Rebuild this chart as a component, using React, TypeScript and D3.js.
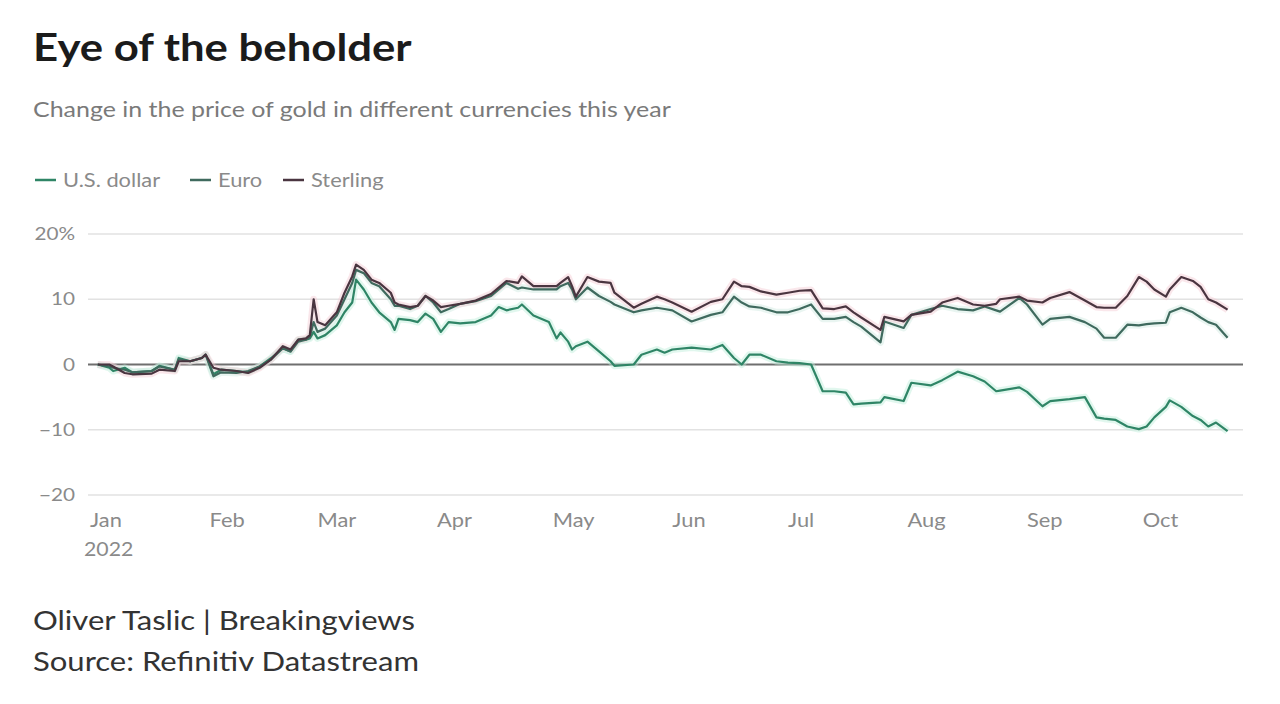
import React from "react";
import * as d3 from "d3";

// values, % change since start of 2022
const dates = [
  "2022-01-03", "2022-01-06", "2022-01-07", "2022-01-10", "2022-01-12", "2022-01-17", "2022-01-19", "2022-01-23",
  "2022-01-24", "2022-01-27", "2022-01-30", "2022-01-31", "2022-02-02", "2022-02-04", "2022-02-08", "2022-02-11",
  "2022-02-14", "2022-02-17", "2022-02-20", "2022-02-22", "2022-02-24", "2022-02-26", "2022-02-27", "2022-02-28",
  "2022-03-01", "2022-03-03", "2022-03-06", "2022-03-08", "2022-03-10", "2022-03-11", "2022-03-13", "2022-03-15",
  "2022-03-17", "2022-03-20", "2022-03-21", "2022-03-22", "2022-03-25", "2022-03-27", "2022-03-29", "2022-03-31",
  "2022-04-02", "2022-04-04", "2022-04-07", "2022-04-11", "2022-04-15", "2022-04-17", "2022-04-19", "2022-04-22",
  "2022-04-23", "2022-04-26", "2022-04-30", "2022-05-02", "2022-05-03", "2022-05-05", "2022-05-06", "2022-05-07",
  "2022-05-10", "2022-05-13", "2022-05-16", "2022-05-17", "2022-05-22", "2022-05-24", "2022-05-28", "2022-05-30",
  "2022-06-01", "2022-06-06", "2022-06-11", "2022-06-14", "2022-06-17", "2022-06-19", "2022-06-21", "2022-06-24",
  "2022-06-28", "2022-07-01", "2022-07-04", "2022-07-07", "2022-07-10", "2022-07-13", "2022-07-16", "2022-07-18",
  "2022-07-20", "2022-07-25", "2022-07-26", "2022-07-31", "2022-08-02", "2022-08-07", "2022-08-10", "2022-08-14",
  "2022-08-18", "2022-08-21", "2022-08-24", "2022-08-25", "2022-08-30", "2022-09-01", "2022-09-05", "2022-09-07",
  "2022-09-12", "2022-09-16", "2022-09-19", "2022-09-21", "2022-09-24", "2022-09-27", "2022-09-30", "2022-10-02",
  "2022-10-04", "2022-10-07", "2022-10-08", "2022-10-11", "2022-10-14", "2022-10-16", "2022-10-18", "2022-10-20",
  "2022-10-23",
];

const usDollar = [
  0, -0.5, -1.0, -0.5, -1.2, -1.0, -0.2, -0.8,
  1.0, 0.5, 1.0, 1.5, -1.5, -0.8, -1.0, -1.2,
  -0.3, 1.0, 2.5, 2.0, 3.8, 3.8, 4.0, 5.0,
  4.0, 4.5, 6.0, 8.0, 9.5, 13.0, 11.5, 9.5,
  8.0, 6.5, 5.3, 7.0, 6.8, 6.5, 7.8, 7.0,
  5.0, 6.5, 6.3, 6.5, 7.5, 8.8, 8.3, 8.7,
  9.2, 7.5, 6.5, 4.0, 4.9, 3.5, 2.3, 2.8,
  3.5, 2.0, 0.5, -0.2, 0.0, 1.5, 2.3, 1.8,
  2.3, 2.6, 2.3, 3.0, 1.0, 0.0, 1.5, 1.5,
  0.5, 0.3, 0.2, 0.0, -4.1, -4.1, -4.3, -6.1,
  -6.0, -5.8, -5.0, -5.6, -2.8, -3.2, -2.4, -1.1,
  -1.8, -2.6, -4.1, -4.0, -3.5, -4.2, -6.4, -5.6,
  -5.3, -5.0, -8.1, -8.3, -8.5, -9.5, -9.9, -9.5,
  -8.1, -6.5, -5.5, -6.5, -7.9, -8.5, -9.5, -8.9,
  -10.2,
];

const euro = [
  0, -0.3, -0.5, -0.8, -1.2, -1.0, -0.3, -0.8,
  0.8, 0.5, 1.0, 1.5, -1.8, -1.2, -1.3, -1.0,
  -0.3, 0.8, 2.5, 2.0, 3.5, 3.8, 4.2, 6.5,
  5.0, 5.5, 7.5, 10.0, 12.5, 14.5, 14.0, 12.5,
  12.0, 10.0, 9.0, 9.0, 8.5, 9.0, 10.5, 9.5,
  8.0, 8.5, 9.3, 9.7, 10.5, 11.5, 12.5, 11.6,
  11.8, 11.5, 11.5, 11.5, 12.0, 12.5, 11.5, 10.0,
  11.8, 10.5, 9.6, 9.2, 8.0, 8.3, 8.7, 8.5,
  8.3, 6.6, 7.6, 8.0, 10.4, 9.5, 8.9, 8.7,
  8.0, 8.0, 8.5, 9.2, 7.0, 7.0, 7.3, 6.5,
  5.8, 3.4, 6.6, 5.6, 7.6, 8.5, 9.0, 8.5,
  8.3, 8.9, 8.3, 8.1, 10.2, 9.2, 6.1, 7.0,
  7.3, 6.5, 5.5, 4.1, 4.1, 6.1, 6.0, 6.2,
  6.3, 6.4, 8.0, 8.7, 8.0, 7.2, 6.5, 6.1,
  4.1,
];

const sterling = [
  0, 0, -0.3, -1.3, -1.5, -1.4, -0.8, -1.0,
  0.5, 0.5, 1.0, 1.5, -0.5, -0.8, -1.0, -1.3,
  -0.5, 0.8, 2.8, 2.3, 3.8, 4.0, 4.5, 10.0,
  6.5, 6.0, 8.0, 11.0, 13.5, 15.3, 14.5, 13.0,
  12.5, 11.0, 9.5, 9.2, 8.8, 9.0, 10.5, 9.8,
  8.8, 9.0, 9.3, 9.8, 10.8, 11.8, 12.8, 12.5,
  13.5, 12.0, 12.0, 12.0, 12.5, 13.4, 12.0, 10.4,
  13.4, 12.7, 12.5, 11.0, 8.7, 9.3, 10.4, 10.0,
  9.5, 8.1, 9.6, 10.0, 12.7, 12.0, 11.9, 11.2,
  10.7, 11.0, 11.3, 11.4, 8.6, 8.5, 8.9, 8.0,
  7.2, 5.3, 7.3, 6.6, 7.6, 8.1, 9.5, 10.2,
  9.2, 9.0, 9.3, 10.0, 10.4, 9.8, 9.5, 10.2,
  11.1, 9.8, 8.8, 8.7, 8.7, 10.5, 13.4, 12.7,
  11.5, 10.4, 11.5, 13.4, 12.8, 11.9, 10.0, 9.5,
  8.4,
];

const seriesNames = ["U.S. dollar", "Euro", "Sterling"];
const seriesColors = ["#2f8566", "#3f6a5e", "#4a3540"];
const glowColors = ["#bdeed9", "#cfe9df", "#f3c9d3"];
const yTicks = [-20, -10, 0, 10, 20];
const monthTicks = ["2022-01-01", "2022-02-01", "2022-03-01", "2022-04-01", "2022-05-01", "2022-06-01", "2022-07-01", "2022-08-01", "2022-09-01", "2022-10-01"];

const W = 1280;
const H = 704;
const FONT = "Lato, 'Noto Sans', sans-serif";
const STRETCH = 1.15; // the reference type is set wide

function T(props: any) {
  const { x, y, children, ...rest } = props;
  return (
    <text transform={`translate(${x},${y}) scale(${STRETCH},1)`} {...rest}>
      {children}
    </text>
  );
}

export default function App() {
  const parse = d3.timeParse("%Y-%m-%d");
  const x = d3
    .scaleTime()
    .domain([parse("2022-01-01") as Date, parse("2022-10-27") as Date])
    .range([90, 1243]);
  const y = d3.scaleLinear().domain([-20, 20]).range([495, 234]);

  const allSeries = [usDollar, euro, sterling];
  const line = d3
    .line<number>()
    .x((_, i) => x(parse(dates[i]) as Date))
    .y((d) => y(d));

  const legendX = [35, 190, 283];

  return (
    <svg
      width={W}
      height={H}
      style={{ position: "absolute", left: 0, top: 0, background: "#ffffff" }}
      fontFamily={FONT}
    >
      <T x={33} y={61} fontSize={38} fontWeight={700} fill="#1b1b1b">
        Eye of the beholder
      </T>
      <T x={33} y={117} fontSize={21.7} fill="#7a7a7a">
        Change in the price of gold in different currencies this year
      </T>

      {/* legend */}
      {seriesNames.map((name, i) => (
        <g key={name} transform={`translate(${legendX[i]},180)`}>
          <line x1={0} x2={21} y1={0} y2={0} stroke={seriesColors[i]} strokeWidth={2.5} />
          <T x={28} y={7} fontSize={19} fill="#8a8a8a">
            {name}
          </T>
        </g>
      ))}

      {/* grid and y ticks */}
      {yTicks.map((t) => (
        <g key={t}>
          <line
            x1={88}
            x2={1243}
            y1={y(t)}
            y2={y(t)}
            stroke={t === 0 ? "#6f6f6f" : "#e2e2e2"}
            strokeWidth={t === 0 ? 2 : 1.5}
          />
          <T x={75} y={y(t) + 6} textAnchor="end" fontSize={18} fill="#8a8a8a">
            {t === 20 ? "20%" : t < 0 ? `\u2212${Math.abs(t)}` : t}
          </T>
        </g>
      ))}

      {/* x axis labels */}
      {monthTicks.map((m, i) => {
        const d = parse(m) as Date;
        return (
          <g key={m}>
            <T x={x(d)} y={527} fontSize={19} fill="#8a8a8a">
              {d3.timeFormat("%b")(d)}
            </T>
            {i === 0 && (
              <T x={x(d) - 6} y={556} fontSize={18.5} fill="#8a8a8a">
                2022
              </T>
            )}
          </g>
        );
      })}

      {/* glow under lines */}
      {allSeries.map((s, i) => (
        <path
          key={"g" + i}
          d={line(s) || ""}
          fill="none"
          stroke={glowColors[i]}
          strokeWidth={7}
          strokeOpacity={0.45}
          strokeLinejoin="round"
        />
      ))}
      {allSeries.map((s, i) => (
        <path
          key={"l" + i}
          d={line(s) || ""}
          fill="none"
          stroke={seriesColors[i]}
          strokeWidth={2.2}
          strokeLinejoin="round"
        />
      ))}

      <T x={33} y={630} fontSize={27} fill="#333333">
        Oliver Taslic | Breakingviews
      </T>
      <T x={33} y={671} fontSize={27} fill="#333333">
        Source: Refinitiv Datastream
      </T>
    </svg>
  );
}
